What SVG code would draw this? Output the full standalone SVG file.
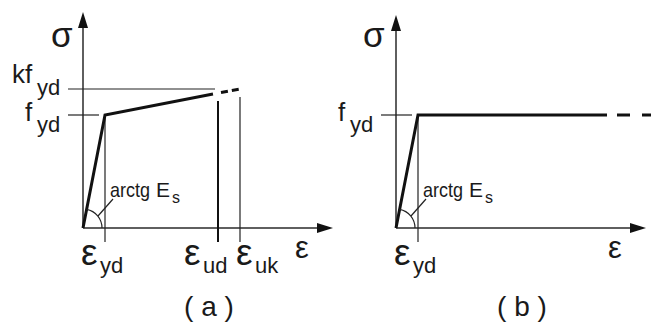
<svg xmlns="http://www.w3.org/2000/svg" width="651" height="322" viewBox="0 0 651 322">
<style>
text{font-family:"Liberation Sans",Arial,sans-serif;fill:#1a1a1a}
.ax{stroke:#2a2a2a;stroke-width:1.5;fill:none}
.thin{stroke:#222;stroke-width:1.2;fill:none}
.curve{stroke:#111;stroke-width:3;fill:none;stroke-linejoin:miter}
.dash{stroke:#111;stroke-width:3;fill:none;stroke-dasharray:7 4}
.head{fill:#111}
.g{font-size:37px}
.m{font-size:26px}
.s{font-size:22px}
.lab{font-size:21px}
.cap{font-size:28px}
</style>
<g id="panel-a">
  <g id="axes-a">
    <line class="ax" x1="83" y1="228" x2="83" y2="26"/>
    <polygon class="head" points="83,12 78,28 88,28"/>
    <line class="ax" x1="83" y1="228" x2="318" y2="228"/>
    <polygon class="head" points="333,228 317,223 317,233"/>
    <text x="295" y="258" style="font-size:31px">ε</text>
    <text x="51" y="47" style="font-size:35px">σ</text>
  </g>
  <g id="ticks-a">
    <line class="thin" x1="68" y1="89" x2="215" y2="89"/>
    <line class="thin" x1="68" y1="115" x2="99" y2="115"/>
    <line class="thin" x1="105" y1="115" x2="105" y2="242"/>
    <line stroke="#111" stroke-width="2" x1="218" y1="101" x2="218" y2="242"/>
    <line class="thin" x1="240" y1="97" x2="240" y2="242"/>
  </g>
  <g id="curve-a">
    <polyline class="curve" points="83,228 105,115 213,94"/>
    <line class="dash" x1="221" y1="92.4" x2="240" y2="89"/>
  </g>
  <g id="angle-a">
    <path class="thin" d="M102,228 A19,19 0 0 0 86.6,209.3"/>
    <line class="thin" x1="98" y1="216" x2="113" y2="199"/>
    <text class="lab" x="110" y="197" textLength="40" lengthAdjust="spacingAndGlyphs">arctg</text>
    <text class="lab" x="156" y="197">E</text>
    <text x="172" y="203" style="font-size:16px">s</text>
  </g>
  <g id="labels-a">
    <text class="m" x="12" y="83">kf</text><text class="s" x="37" y="95">yd</text>
    <text class="m" x="25" y="121">f</text><text class="s" x="37" y="132">yd</text>
    <text class="g" x="81" y="265">ε</text><text class="s" x="100" y="273">yd</text>
    <text class="g" x="184" y="265">ε</text><text class="s" x="203" y="273">ud</text>
    <text class="g" x="236" y="265">ε</text><text class="s" x="255" y="273">uk</text>
    <text class="cap" x="209" y="316" text-anchor="middle">( a )</text>
  </g>
</g>
<g id="panel-b">
  <g id="axes-b">
    <line class="ax" x1="396" y1="228" x2="396" y2="29"/>
    <polygon class="head" points="396,15 391,31 401,31"/>
    <line class="ax" x1="396" y1="228" x2="631" y2="228"/>
    <polygon class="head" points="646,228 630,223 630,233"/>
    <text x="608" y="258" style="font-size:31px">ε</text>
    <text x="363" y="47" style="font-size:35px">σ</text>
  </g>
  <g id="ticks-b">
    <line class="thin" x1="381" y1="115" x2="412" y2="115"/>
    <line class="thin" x1="418" y1="115" x2="418" y2="242"/>
  </g>
  <g id="curve-b">
    <polyline class="curve" points="396,228 418,115 607,115"/>
    <line class="curve" x1="617" y1="115" x2="630" y2="115"/>
    <line class="curve" x1="642" y1="115" x2="655" y2="115"/>
  </g>
  <g id="angle-b">
    <path class="thin" d="M415,228 A19,19 0 0 0 399.6,209.3"/>
    <line class="thin" x1="411" y1="216" x2="426" y2="199"/>
    <text class="lab" x="423" y="197" textLength="40" lengthAdjust="spacingAndGlyphs">arctg</text>
    <text class="lab" x="469" y="197">E</text>
    <text x="485" y="203" style="font-size:16px">s</text>
  </g>
  <g id="labels-b">
    <text class="m" x="338" y="121">f</text><text class="s" x="350" y="132">yd</text>
    <text class="g" x="394" y="265">ε</text><text class="s" x="413" y="273">yd</text>
    <text class="cap" x="522" y="316" text-anchor="middle">( b )</text>
  </g>
</g>
</svg>
